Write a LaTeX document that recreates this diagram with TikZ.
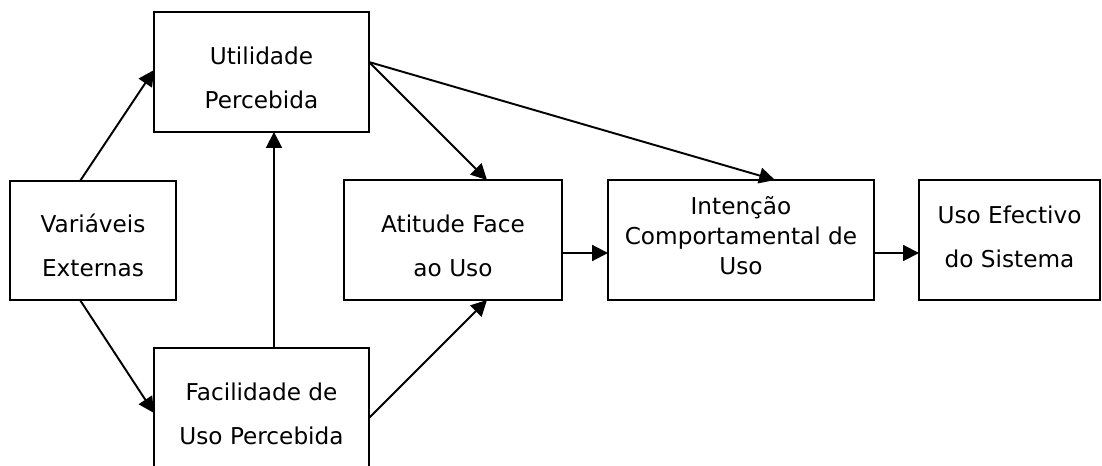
\documentclass[tikz,border=0pt]{standalone}
\usepackage{fontspec}
\setmainfont{DejaVu Sans}
\usetikzlibrary{arrows.meta}

\begin{document}
\begin{tikzpicture}[
		x=0.02cm, y=-0.02cm,
		line width=1.1pt,
		>={Triangle[length=9pt, width=9pt]},
		MyBox/.style={draw, inner sep=0pt, outer sep=0pt,
			text height=1.94cm, text depth=0.46cm,
			align=center, font=\fontsize{13.2}{25.6}\selectfont},
		TightBox/.style={MyBox, font=\fontsize{13.2}{17.1}\selectfont},
		]
		\useasboundingbox (0,0) rectangle (1102,466);
		\node [MyBox, minimum width=3.32cm, text height=1.92cm] (var) at (93,240.5) {Variáveis\\Externas};
		\node [MyBox, minimum width=4.3cm] (util) at (261.5,72) {Utilidade\\Percebida};
		\node [MyBox, minimum width=4.3cm] (fac) at (261.5,408) {Facilidade de\\Uso Percebida};
		\node [MyBox, minimum width=4.36cm] (att) at (453,240) {Atitude Face\\ao Uso};
		\node [TightBox, minimum width=5.32cm, text height=1.9cm, text depth=0.5cm] (int) at (741,240) {Intenção\\Comportamental de\\Uso};
		\node [MyBox, minimum width=3.62cm, text height=1.76cm, text depth=0.64cm] (uso) at (1009.5,240) {Uso Efectivo\\do Sistema};
		
		\draw [->] ([xshift=-0.26cm]var.north) -- ([yshift=0.04cm]util.west);
		\draw [->] ([xshift=-0.26cm]var.south) -- ([yshift=-0.1cm]fac.west);
		\draw [->] ([xshift=0.25cm]fac.north) -- ([xshift=0.25cm]util.south);
		\draw [->] ([yshift=0.2cm]util.east) -- ([xshift=0.68cm]att.north);
		\draw [->] ([yshift=0.2cm]util.east) -- ([xshift=0.68cm]int.north);
		\draw [->] ([yshift=-0.2cm]fac.east) -- ([xshift=0.68cm]att.south);
		\draw [->] ([yshift=-0.26cm]att.east) -- ([yshift=-0.26cm]int.west);
		\draw [->] ([yshift=-0.26cm]int.east) -- ([yshift=-0.26cm]uso.west);
		
\end{tikzpicture}
\end{document}
